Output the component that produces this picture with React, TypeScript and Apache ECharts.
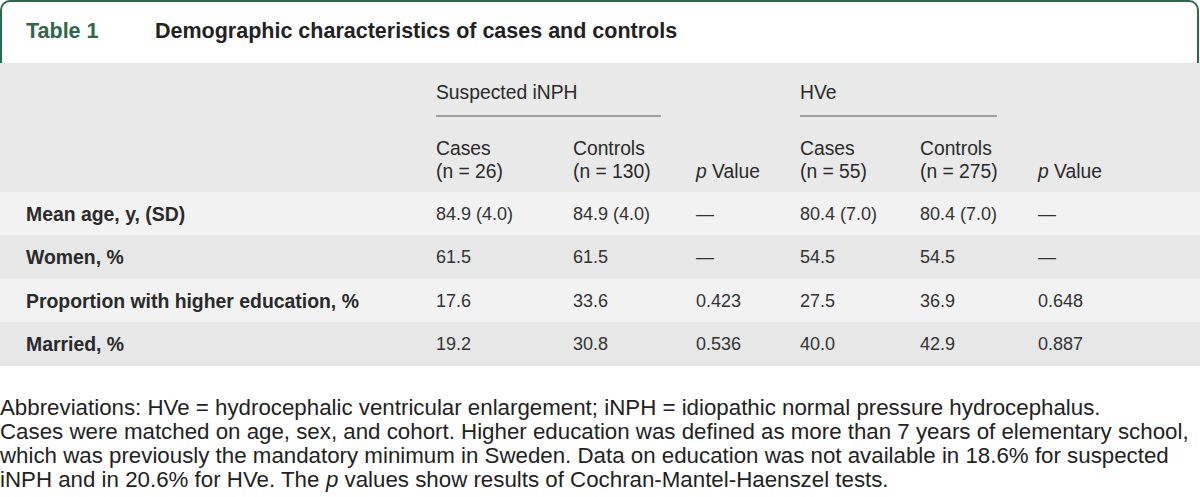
import React, { useEffect, useRef } from "react";
import * as echarts from "echarts";

const titleLabel = "Table 1";
const titleText = "Demographic characteristics of cases and controls";
const groupHeaders = ["Suspected iNPH", "HVe"];
const columnHeaders = [
  ["Cases", "(n = 26)"],
  ["Controls", "(n = 130)"],
  ["", "{i|p} Value"],
  ["Cases", "(n = 55)"],
  ["Controls", "(n = 275)"],
  ["", "{i|p} Value"],
];
const rowLabels = [
  "Mean age, y, (SD)",
  "Women, %",
  "Proportion with higher education, %",
  "Married, %",
];
const casesINPH = ["84.9 (4.0)", "61.5", "17.6", "19.2"];
const controlsINPH = ["84.9 (4.0)", "61.5", "33.6", "30.8"];
const pINPH = ["—", "—", "0.423", "0.536"];
const casesHVe = ["80.4 (7.0)", "54.5", "27.5", "40.0"];
const controlsHVe = ["80.4 (7.0)", "54.5", "36.9", "42.9"];
const pHVe = ["—", "—", "0.648", "0.887"];
const footnotes = [
  "Abbreviations: HVe = hydrocephalic ventricular enlargement; iNPH = idiopathic normal pressure hydrocephalus.",
  "Cases were matched on age, sex, and cohort. Higher education was defined as more than 7 years of elementary school,",
  "which was previously the mandatory minimum in Sweden. Data on education was not available in 18.6% for suspected",
  "iNPH and in 20.6% for HVe. The {i|p} values show results of Cochran-Mantel-Haenszel tests.",
];

const FONT = "'Liberation Sans', Arial, Helvetica, sans-serif";
const GREEN = "#2b6948";
const TEXT = "#2a2a2a";

export default function App() {
  const ref = useRef<HTMLDivElement>(null);
  useEffect(() => {
    if (!ref.current) return;
    const chart = echarts.init(ref.current, undefined, { renderer: "svg" });
    const colX = [436, 573, 696, 800, 920, 1038];
    const rowTop = [192, 235, 279, 322];
    const rowH = [43, 44, 43, 44];
    const rowFill = ["#f2f2f2", "#e6e7e6", "#f2f2f2", "#e6e7e6"];
    const cols = [casesINPH, controlsINPH, pINPH, casesHVe, controlsHVe, pHVe];
    const HF = 19.3;
    const VF = 18;
    const LF = 19.4;
    const NF = 22.3;
    const els: any[] = [];
    els.push({
      type: "rect",
      shape: { x: 1, y: 1, width: 1197, height: 90, r: [9, 9, 0, 0] },
      style: { fill: "#ffffff", stroke: GREEN, lineWidth: 2 },
    });
    els.push({
      type: "text",
      x: 26,
      y: 31,
      style: { text: titleLabel, font: `bold 21.5px ${FONT}`, fill: GREEN, verticalAlign: "middle" },
    });
    els.push({
      type: "text",
      x: 155,
      y: 31,
      style: { text: titleText, font: `bold 21.5px ${FONT}`, fill: "#222222", verticalAlign: "middle" },
    });
    els.push({ type: "rect", shape: { x: 0, y: 63, width: 1200, height: 129 }, style: { fill: "#e8e9e8" } });
    const groupSpans = [[436, 661], [800, 997]];
    groupHeaders.forEach((g, i) => {
      els.push({
        type: "text",
        x: groupSpans[i][0],
        y: 92,
        style: { text: g, font: `${HF}px ${FONT}`, fill: TEXT, verticalAlign: "middle" },
      });
      els.push({
        type: "line",
        shape: { x1: groupSpans[i][0], y1: 116, x2: groupSpans[i][1], y2: 116 },
        style: { stroke: "#555555", lineWidth: 1.2 },
      });
    });
    columnHeaders.forEach((h, i) => {
      if (h[0]) {
        els.push({
          type: "text",
          x: colX[i],
          y: 148,
          style: { text: h[0], font: `${HF}px ${FONT}`, fill: TEXT, verticalAlign: "middle" },
        });
      }
      els.push({
        type: "text",
        x: colX[i],
        y: 171,
        style: {
          text: h[1],
          font: `${HF}px ${FONT}`,
          fill: TEXT,
          verticalAlign: "middle",
          rich: { i: { fontStyle: "italic", fontSize: HF, fontFamily: FONT, fill: TEXT } },
        },
      });
    });
    rowLabels.forEach((lab, r) => {
      els.push({
        type: "rect",
        shape: { x: 0, y: rowTop[r], width: 1200, height: rowH[r] },
        style: { fill: rowFill[r] },
      });
      const cy = rowTop[r] + rowH[r] / 2;
      els.push({
        type: "text",
        x: 26,
        y: cy,
        style: { text: lab, font: `bold ${LF}px ${FONT}`, fill: TEXT, verticalAlign: "middle" },
      });
      cols.forEach((c, ci) => {
        els.push({
          type: "text",
          x: colX[ci],
          y: cy,
          style: { text: c[r], font: `${VF}px ${FONT}`, fill: "#333333", verticalAlign: "middle" },
        });
      });
    });
    const fy = [407, 431, 455, 479];
    footnotes.forEach((f, i) => {
      els.push({
        type: "text",
        x: 0,
        y: fy[i],
        style: {
          text: f,
          font: `${NF}px ${FONT}`,
          fill: "#222222",
          verticalAlign: "middle",
          rich: { i: { fontStyle: "italic", fontSize: NF, fontFamily: FONT, fill: "#222222" } },
        },
      });
    });
    chart.setOption({
      animation: false,
      backgroundColor: "#ffffff",
      graphic: { elements: els },
    });
    return () => chart.dispose();
  }, []);
  return (
    <div
      ref={ref}
      style={{ position: "fixed", left: 0, top: 0, width: 1200, height: 497 }}
    />
  );
}
